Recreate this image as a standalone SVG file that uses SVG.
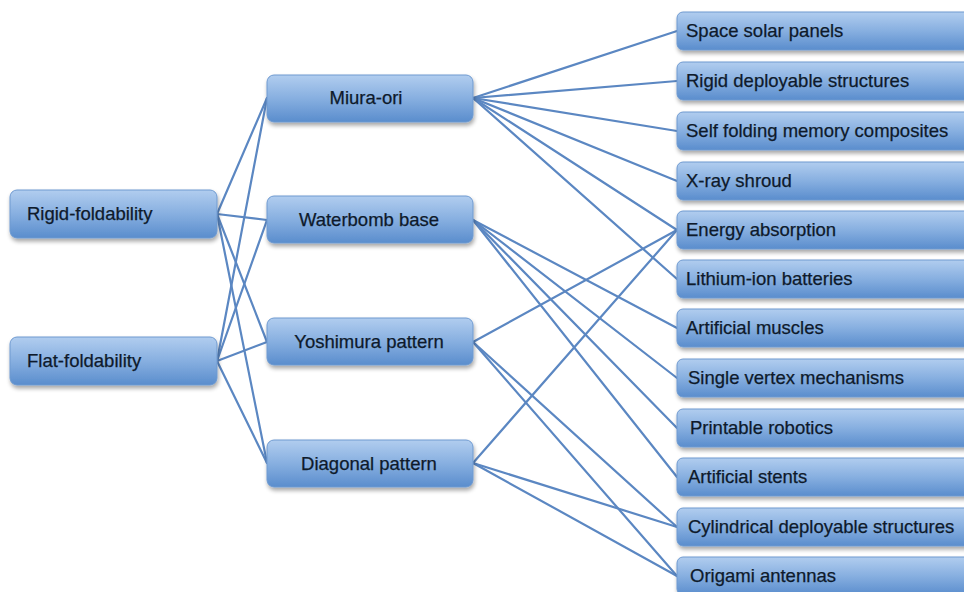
<svg xmlns="http://www.w3.org/2000/svg" width="964" height="592" viewBox="0 0 964 592">
<defs>
<linearGradient id="g" x1="0" y1="0" x2="0" y2="1">
<stop offset="0" stop-color="#b1cdef"/>
<stop offset="0.5" stop-color="#87afe0"/>
<stop offset="1" stop-color="#5a8dcd"/>
</linearGradient>
<filter id="sh" x="-5%" y="-20%" width="115%" height="160%">
<feGaussianBlur in="SourceAlpha" stdDeviation="2"/>
<feOffset dx="1" dy="3" result="b"/>
<feComponentTransfer><feFuncA type="linear" slope="0.35"/></feComponentTransfer>
<feMerge><feMergeNode/><feMergeNode in="SourceGraphic"/></feMerge>
</filter>
</defs>
<style>
.box{fill:url(#g);stroke:#6f9ad0;stroke-width:1;filter:url(#sh)}
.t{font-family:"Liberation Sans",Arial,sans-serif;font-size:18.5px;fill:#0e1a2b;stroke:#0e1a2b;stroke-width:0.25}
.c{text-anchor:middle}
.e line{stroke:#5b87c2;stroke-width:2.2;stroke-linecap:round}
</style>
<rect width="964" height="592" fill="#ffffff"/>
<g id="connectors" class="e">
<line x1="217" y1="214" x2="267" y2="98"/>
<line x1="217" y1="214" x2="267" y2="220"/>
<line x1="217" y1="214" x2="267" y2="342"/>
<line x1="217" y1="214" x2="267" y2="463"/>
<line x1="217" y1="361" x2="267" y2="98"/>
<line x1="217" y1="361" x2="267" y2="220"/>
<line x1="217" y1="361" x2="267" y2="342"/>
<line x1="217" y1="361" x2="267" y2="463"/>
<line x1="473" y1="98" x2="677" y2="31"/>
<line x1="473" y1="98" x2="677" y2="81"/>
<line x1="473" y1="98" x2="677" y2="131"/>
<line x1="473" y1="98" x2="677" y2="181"/>
<line x1="473" y1="98" x2="677" y2="230"/>
<line x1="473" y1="98" x2="677" y2="279"/>
<line x1="473" y1="220" x2="677" y2="328"/>
<line x1="473" y1="220" x2="677" y2="378"/>
<line x1="473" y1="220" x2="677" y2="428"/>
<line x1="473" y1="220" x2="677" y2="477"/>
<line x1="473" y1="342" x2="677" y2="230"/>
<line x1="473" y1="342" x2="677" y2="527"/>
<line x1="473" y1="342" x2="677" y2="576"/>
<line x1="473" y1="463" x2="677" y2="230"/>
<line x1="473" y1="463" x2="677" y2="527"/>
<line x1="473" y1="463" x2="677" y2="576"/>
</g>
<g id="rigid-foldability"><rect class="box" x="10" y="190" width="207" height="48" rx="7"/><text class="t" x="27" y="220">Rigid-foldability</text></g>
<g id="flat-foldability"><rect class="box" x="10" y="337" width="207" height="48" rx="7"/><text class="t" x="27" y="367">Flat-foldability</text></g>
<g id="miura-ori"><rect class="box" x="267" y="75" width="206" height="47" rx="7"/><text class="t c" x="366" y="104">Miura-ori</text></g>
<g id="waterbomb-base"><rect class="box" x="267" y="196" width="206" height="47" rx="7"/><text class="t c" x="369" y="226">Waterbomb base</text></g>
<g id="yoshimura-pattern"><rect class="box" x="267" y="318" width="206" height="47" rx="7"/><text class="t c" x="369" y="348">Yoshimura pattern</text></g>
<g id="diagonal-pattern"><rect class="box" x="267" y="440" width="206" height="47" rx="7"/><text class="t c" x="369" y="470">Diagonal pattern</text></g>
<g id="space-solar-panels"><rect class="box" x="677" y="12" width="300" height="38" rx="6"/><text class="t" x="686" y="37">Space solar panels</text></g>
<g id="rigid-deployable-structures"><rect class="box" x="677" y="62" width="300" height="38" rx="6"/><text class="t" x="686" y="87">Rigid deployable structures</text></g>
<g id="self-folding-memory-composites"><rect class="box" x="677" y="112" width="300" height="38" rx="6"/><text class="t" x="686" y="137">Self folding memory composites</text></g>
<g id="x-ray-shroud"><rect class="box" x="677" y="162" width="300" height="38" rx="6"/><text class="t" x="686" y="187">X-ray shroud</text></g>
<g id="energy-absorption"><rect class="box" x="677" y="211" width="300" height="38" rx="6"/><text class="t" x="686" y="236">Energy absorption</text></g>
<g id="lithium-ion-batteries"><rect class="box" x="677" y="260" width="300" height="38" rx="6"/><text class="t" x="686" y="285">Lithium-ion batteries</text></g>
<g id="artificial-muscles"><rect class="box" x="677" y="309" width="300" height="38" rx="6"/><text class="t" x="686" y="334">Artificial muscles</text></g>
<g id="single-vertex-mechanisms"><rect class="box" x="677" y="359" width="300" height="38" rx="6"/><text class="t" x="688" y="384">Single vertex mechanisms</text></g>
<g id="printable-robotics"><rect class="box" x="677" y="409" width="300" height="38" rx="6"/><text class="t" x="690" y="434">Printable robotics</text></g>
<g id="artificial-stents"><rect class="box" x="677" y="458" width="300" height="38" rx="6"/><text class="t" x="688" y="483">Artificial stents</text></g>
<g id="cylindrical-deployable-structures"><rect class="box" x="677" y="508" width="300" height="38" rx="6"/><text class="t" x="688" y="533">Cylindrical deployable structures</text></g>
<g id="origami-antennas"><rect class="box" x="677" y="557" width="300" height="38" rx="6"/><text class="t" x="690" y="582">Origami antennas</text></g>
</svg>
